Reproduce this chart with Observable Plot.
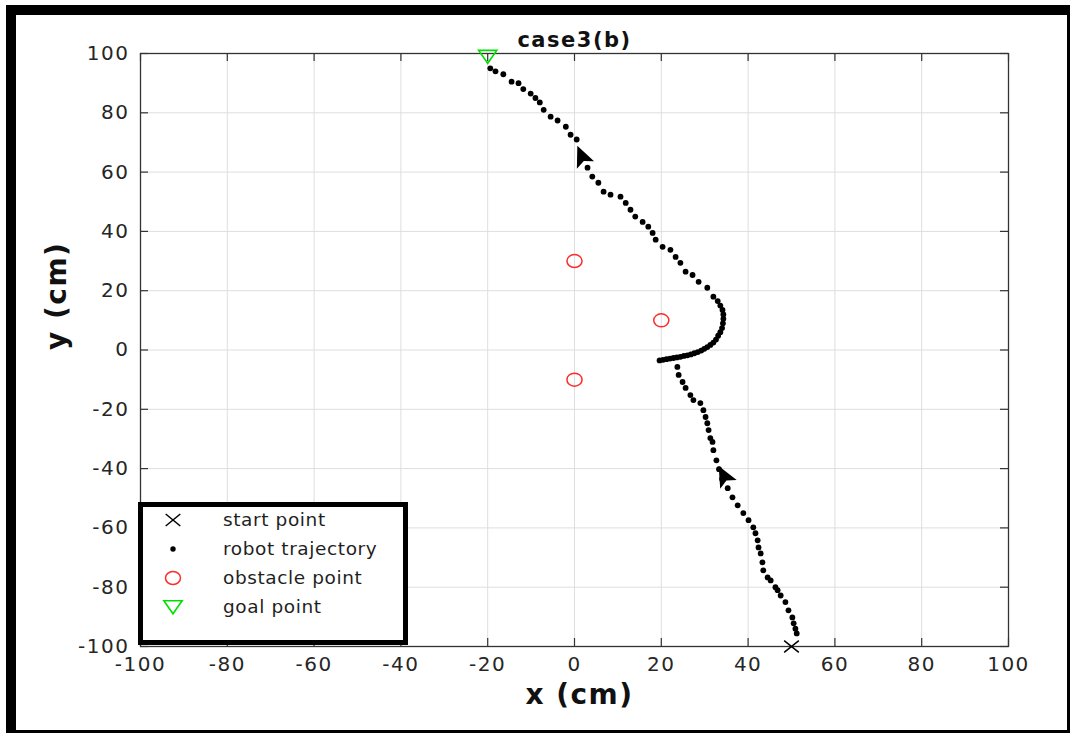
<!DOCTYPE html>
<html>
<head>
<meta charset="utf-8">
<script src="https://cdn.jsdelivr.net/npm/d3@7"></script>
<script src="https://cdn.jsdelivr.net/npm/@observablehq/plot@0.6"></script>
<style>
html, body { margin: 0; padding: 0; background: #fff; }
#wrap { position: relative; width: 1073px; height: 735px; overflow: hidden; font-family: "DejaVu Sans", sans-serif; }
#wrap > svg { position: absolute; left: 0; top: 0; }
#wrap svg text { letter-spacing: 1.5px; }
.bd { position: absolute; background: #000; }
#legend { position: absolute; left: 138px; top: 502px; width: 270px; height: 143px; box-sizing: border-box; border: 5px solid #000; background: #fff; }
#legend .row { position: absolute; left: 0; height: 24px; width: 260px; }
#legend .row svg { position: absolute; left: 15px; top: 0; }
#legend .row span { position: absolute; left: 80px; top: 0; line-height: 24px; font-size: 18.5px; color: #1f1f1f; letter-spacing: 0.6px; white-space: nowrap; }
</style>
</head>
<body>
<div id="wrap"></div>
<script>
// ---- data ----
const xTicks = [-100, -80, -60, -40, -20, 0, 20, 40, 60, 80, 100];
const yTicks = [-100, -80, -60, -40, -20, 0, 20, 40, 60, 80, 100];

const trajX = [51.2, 50.9, 50.5, 50.2, 49.3, 48.6, 47.5, 46.8, 46.3, 45.2, 44.5, 43.5, 43.3, 42.9, 42.4, 42.2, 41.7, 41.2, 40.1, 38.9, 37.6, 36.4, 35.3, 34.0, 33.3, 32.7, 32.0, 31.8, 31.3, 30.9, 30.6, 30.2, 29.7, 29.0, 27.4, 26.7, 25.6, 24.9, 24.0, 23.7,
  19.6, 20.4, 21.2, 22.0, 22.8, 23.6, 24.4, 25.2, 26.0, 26.8, 27.6, 28.4, 29.2, 29.9, 30.6, 31.3, 32.0, 32.6, 33.1, 33.6, 34.0, 34.2, 34.3, 34.3, 34.1, 33.6, 33.0, 32.0, 30.6, 28.6, 27.2, 25.6, 24.4, 23.3, 22.1, 20.3, 18.7, 18.0, 17.0, 15.7, 14.0, 12.9, 11.8, 10.6, 8.3, 6.7, 5.5, 4.1, 3.0,
  0.5, -0.9, -2.0, -3.9, -5.5, -7.1, -8.0, -9.0, -10.1, -11.8, -12.9, -14.5, -16.4, -18.2, -19.4];
const trajY = [-95.6, -94.0, -92.2, -90.2, -87.8, -85.0, -82.8, -81.0, -80.0, -77.7, -76.7, -74.3, -71.6, -68.6, -66.6, -64.2, -61.8, -59.8, -57.4, -55.0, -52.4, -49.7, -46.6, -43.5, -40.2, -37.2, -33.8, -31.0, -29.7, -27.0, -24.7, -22.6, -20.3, -17.9, -16.9, -15.2, -12.8, -10.8, -8.4, -5.7,
  -3.5, -3.3, -3.1, -2.9, -2.7, -2.5, -2.3, -2.0, -1.8, -1.5, -1.1, -0.7, -0.2, 0.4, 1.0, 1.7, 2.5, 3.5, 4.8, 6.0, 7.4, 9.0, 10.5, 12.0, 13.5, 15.0, 16.5, 18.0, 21.0, 23.0, 25.3, 26.4, 29.4, 31.4, 33.8, 34.8, 37.2, 39.5, 41.6, 43.2, 45.0, 47.3, 49.6, 51.7, 52.4, 53.4, 56.4, 58.5, 61.5,
  71.0, 72.6, 75.3, 77.4, 78.7, 81.0, 83.5, 85.0, 86.5, 88.0, 90.0, 90.5, 93.0, 94.0, 95.0];

const startX = [50], startY = [-100];
const goalX = [-20], goalY = [100];
const obstacleX = [0, 20, 0], obstacleY = [30, 10, -10];
const arrowX = [1.8, 34.6], arrowY = [64.9, -42.9], arrowAngle = [-23, -28];

const titleText = "case3(b)";
const xLabel = "x (cm)";
const yLabel = "y (cm)";
const legendLabels = ["start point", "robot trajectory", "obstacle point", "goal point"];

// ---- tables ----
const traj = trajX.map((x, i) => ({x, y: trajY[i]}));
const starts = startX.map((x, i) => ({x, y: startY[i]}));
const goals = goalX.map((x, i) => ({x, y: goalY[i]}));
const obstacles = obstacleX.map((x, i) => ({x, y: obstacleY[i]}));
const arrows = arrowX.map((x, i) => ({x, y: arrowY[i], a: arrowAngle[i]}));

// ---- custom symbols ----
const rOf = s => Math.sqrt(s / Math.PI);
const ellipseSym = {draw(ctx, size) {
  const r = rOf(size), rx = 1.08 * r, ry = 0.93 * r, k = 0.5523;
  ctx.moveTo(rx, 0);
  ctx.bezierCurveTo(rx, k * ry, k * rx, ry, 0, ry);
  ctx.bezierCurveTo(-k * rx, ry, -rx, k * ry, -rx, 0);
  ctx.bezierCurveTo(-rx, -k * ry, -k * rx, -ry, 0, -ry);
  ctx.bezierCurveTo(k * rx, -ry, rx, -k * ry, rx, 0);
  ctx.closePath();
}};
const triDownSym = {draw(ctx, size) {
  const r = rOf(size);
  ctx.moveTo(-1.3 * r, -0.45 * r);
  ctx.lineTo(1.3 * r, -0.45 * r);
  ctx.lineTo(0, 1.4 * r);
  ctx.closePath();
}};
const crossSym = {draw(ctx, size) {
  const r = rOf(size);
  ctx.moveTo(-1.05 * r, -0.85 * r); ctx.lineTo(1.05 * r, 0.85 * r);
  ctx.moveTo(-1.05 * r, 0.85 * r); ctx.lineTo(1.05 * r, -0.85 * r);
}};
const arrowSym = {draw(ctx, size) {
  const r = rOf(size);
  ctx.moveTo(0, -1.5 * r);
  ctx.lineTo(1.1 * r, 0.95 * r);
  ctx.lineTo(0, 0.45 * r);
  ctx.lineTo(-1.1 * r, 0.95 * r);
  ctx.closePath();
}};

// ---- plot ----
const W = 1073, H = 735, mL = 140, mR = 65, mT = 53, mB = 89;
const plotW = W - mL - mR, plotH = H - mT - mB;
const axisColor = "#333";
const font = '"DejaVu Sans", sans-serif';

const chart = Plot.plot({
  width: W, height: H,
  marginLeft: mL, marginRight: mR, marginTop: mT, marginBottom: mB,
  x: {domain: [-100, 100], axis: null},
  y: {domain: [-100, 100], axis: null},
  style: {fontFamily: font, background: "transparent", overflow: "visible"},
  marks: [
    Plot.ruleX(xTicks, {x: d => d, stroke: "#dedede", strokeWidth: 1}),
    Plot.ruleY(yTicks, {y: d => d, stroke: "#dedede", strokeWidth: 1}),
    Plot.ruleX(xTicks, {x: d => d, insetTop: plotH - 8, stroke: axisColor, strokeWidth: 1.2}),
    Plot.ruleX(xTicks, {x: d => d, insetBottom: plotH - 8, stroke: axisColor, strokeWidth: 1.2}),
    Plot.ruleY(yTicks, {y: d => d, insetRight: plotW - 8, stroke: axisColor, strokeWidth: 1.2}),
    Plot.ruleY(yTicks, {y: d => d, insetLeft: plotW - 8, stroke: axisColor, strokeWidth: 1.2}),
    Plot.frame({stroke: axisColor, strokeWidth: 1.3}),
    Plot.text(xTicks, {x: d => d, text: d => String(d), frameAnchor: "bottom", dy: 24, fontSize: 20, fill: "#262626", fontFamily: font}),
    Plot.text(yTicks, {y: d => d, text: d => String(d), frameAnchor: "left", dx: -11, textAnchor: "end", fontSize: 20, fill: "#262626", fontFamily: font}),
    Plot.text([titleText], {text: d => d, frameAnchor: "top", dy: -21, fontSize: 21, fontWeight: "bold", fill: "#111", fontFamily: font}),
    Plot.text([xLabel], {text: d => d, frameAnchor: "bottom", dy: 57, dx: 5, fontSize: 28, fontWeight: "bold", fill: "#111", fontFamily: font}),
    Plot.text([yLabel], {text: d => d, frameAnchor: "left", dx: -83, rotate: -90, fontSize: 28, fontWeight: "bold", fill: "#111", fontFamily: font}),
    Plot.dot(traj, {x: "x", y: "y", r: 2.9, fill: "#000", stroke: "none"}),
    Plot.dot(obstacles, {x: "x", y: "y", symbol: ellipseSym, r: 7, stroke: "#ff2a2a", strokeWidth: 1.5, fill: "none"}),
    Plot.dot(goals, {x: "x", y: "y", symbol: triDownSym, r: 7, stroke: "#00e000", strokeWidth: 1.6, fill: "none"}),
    Plot.dot(starts, {x: "x", y: "y", symbol: crossSym, r: 7, stroke: "#000", strokeWidth: 1.5, fill: "none"}),
    Plot.dot(arrows, {x: "x", y: "y", symbol: arrowSym, r: 8.5, rotate: "a", fill: "#000", stroke: "none"})
  ]
});

const wrap = document.getElementById("wrap");
wrap.appendChild(chart);

// ---- outer figure frame ----
[[6, 5, 10, 728], [6, 5, 1064, 10], [1067, 5, 3, 728], [6, 730, 1064, 3]].forEach(([l, t, w, h]) => {
  const d = document.createElement("div");
  d.className = "bd";
  d.style.left = l + "px"; d.style.top = t + "px"; d.style.width = w + "px"; d.style.height = h + "px";
  wrap.appendChild(d);
});

// ---- legend ----
const legendMarkers = [
  '<path d="M-7.3,-6 L7.3,6 M-7.3,6 L7.3,-6" stroke="#000" stroke-width="1.5" fill="none"/>',
  '<circle r="2.7" fill="#000"/>',
  '<ellipse rx="7.5" ry="6.5" stroke="#ff2a2a" stroke-width="1.5" fill="none"/>',
  '<path d="M-9.1,-3.2 L9.1,-3.2 L0,9.8 Z" transform="translate(0,-3)" stroke="#00e000" stroke-width="1.6" fill="none"/>'
];
const legend = document.createElement("div");
legend.id = "legend";
const rowTops = [1, 30, 59, 88];
legendLabels.forEach((lab, i) => {
  const row = document.createElement("div");
  row.className = "row";
  row.style.top = rowTops[i] + "px";
  row.innerHTML = '<svg width="30" height="24" viewBox="-15 -12 30 24">' + legendMarkers[i] + '</svg><span>' + lab + '</span>';
  legend.appendChild(row);
});
wrap.appendChild(legend);
</script>
</body>
</html>
